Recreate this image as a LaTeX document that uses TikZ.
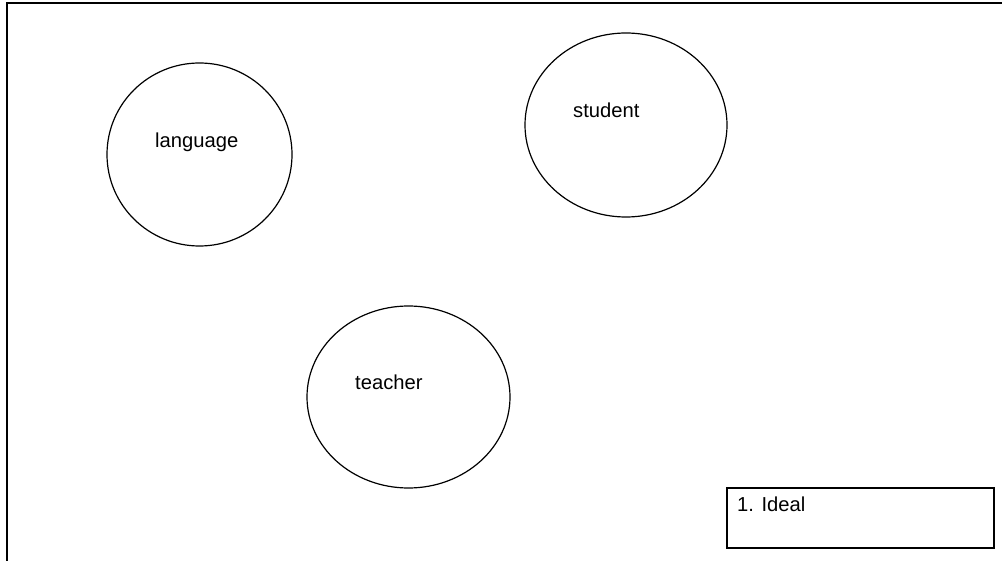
\documentclass[tikz,border=0pt]{standalone}
\usepackage{fontspec}
\setmainfont{Liberation Sans}
\usetikzlibrary{shapes.geometric}
\begin{document}
\begin{tikzpicture}[x=1pt,y=-1pt,
  every node/.style={font=\fontsize{20.2}{24}\selectfont},
  bubble/.style={draw,line width=1.2pt,ellipse,inner sep=0pt},
  caption/.style={anchor=base west,inner sep=0pt}]
\useasboundingbox (0,0) rectangle (1002,561);
% outer frame (only its left and top edges fall in view)
\draw[line width=2pt] (7,600) -- (7,3) -- (1010,3);
% concept bubbles
\node[bubble,minimum width=185pt,minimum height=183pt] (language) at (199.5,154.5) {};
\node[bubble,minimum width=202pt,minimum height=184pt] (student) at (626,125) {};
\node[bubble,minimum width=203pt,minimum height=182pt] (teacher) at (408.5,397) {};
\node[caption] (languagetext) at (155,148) {language};
\node[caption] (studenttext) at (573,118) {student};
\node[caption] (teachertext) at (355,390) {teacher};
% legend box
\draw[line width=1.2pt] (727,488) rectangle (994,548);
\node[caption] (legend) at (737,511) {1. Ideal};
\end{tikzpicture}
\end{document}
